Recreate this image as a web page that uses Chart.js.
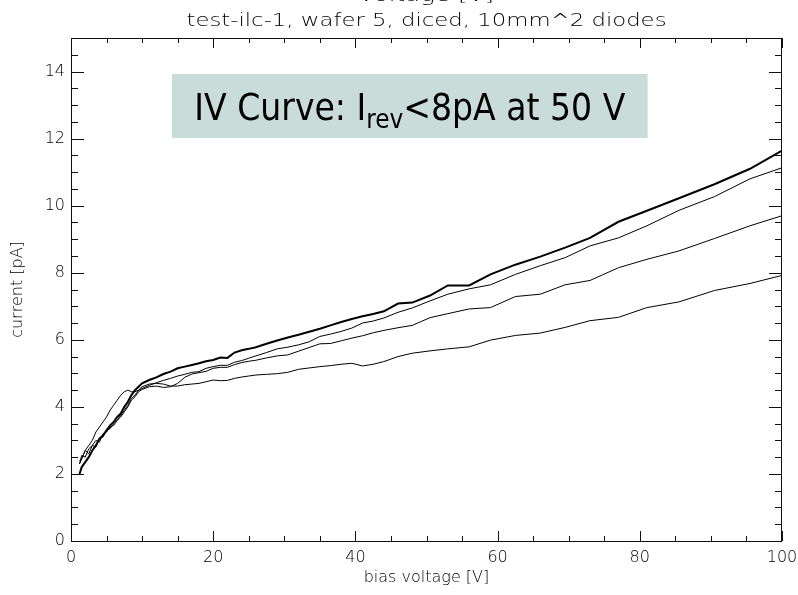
<!DOCTYPE html>
<html>
<head>
<meta charset="utf-8">
<script src="https://cdn.jsdelivr.net/npm/chart.js@4/dist/chart.umd.min.js"></script>
<style>
  html, body { margin: 0; padding: 0; background: #fff; }
</style>
</head>
<body>
<canvas id="myChart" width="798" height="595"></canvas>
<script>
// bias voltage points [V]
const voltage = [1.2, 1.5, 2, 2.5, 3, 3.5, 4, 4.5, 5, 5.5,
  6, 6.5, 7, 7.5, 8, 8.5, 9, 9.5, 10, 11,
  12, 13, 14, 15, 16, 17, 18, 19, 20, 21,
  22, 23, 24, 25, 26, 27.5, 29, 30.5, 32, 33.5,
  35, 36.5, 38, 39.5, 41, 42.5, 44, 46, 48, 50.5,
  53, 56, 59, 62.5, 66, 69.5, 73, 77, 81, 85.5,
  90.5, 95.5, 100];

// current [pA], one list per diode
const diodeA = [2.0, 2.2, 2.35, 2.5, 2.7, 2.85, 3.05, 3.15, 3.3, 3.45,
  3.55, 3.7, 3.8, 4.0, 4.15, 4.35, 4.5, 4.6, 4.7, 4.8,
  4.88, 4.98, 5.05, 5.15, 5.2, 5.25, 5.3, 5.36, 5.4, 5.47,
  5.46, 5.62, 5.69, 5.73, 5.78, 5.88, 5.98, 6.07, 6.15, 6.24,
  6.33, 6.43, 6.53, 6.62, 6.7, 6.77, 6.85, 7.08, 7.11, 7.32,
  7.62, 7.62, 7.95, 8.24, 8.48, 8.75, 9.04, 9.52, 9.85, 10.22,
  10.64, 11.1, 11.64];
const diodeB = [2.3, 2.55, 2.5, 2.75, 2.85, 2.8, 3.05, 3.1, 3.3, 3.35,
  3.5, 3.6, 3.75, 3.9, 4.05, 4.25, 4.35, 4.49, 4.55, 4.64,
  4.72, 4.79, 4.85, 4.92, 4.97, 5.03, 5.05, 5.15, 5.2, 5.24,
  5.24, 5.33, 5.38, 5.45, 5.52, 5.62, 5.73, 5.78, 5.85, 5.94,
  6.1, 6.17, 6.25, 6.35, 6.5, 6.56, 6.65, 6.82, 6.95, 7.16,
  7.36, 7.52, 7.64, 7.95, 8.21, 8.45, 8.8, 9.04, 9.4, 9.86,
  10.27, 10.8, 11.13];
const diodeC = [2.4, 2.45, 2.7, 2.6, 2.85, 3.0, 2.95, 3.2, 3.25, 3.4,
  3.45, 3.6, 3.7, 3.85, 4.0, 4.2, 4.3, 4.45, 4.52, 4.6,
  4.62, 4.58, 4.6, 4.7, 4.88, 4.98, 5.02, 5.06, 5.15, 5.18,
  5.18, 5.26, 5.32, 5.36, 5.39, 5.46, 5.52, 5.55, 5.66, 5.77,
  5.88, 5.89, 5.97, 6.05, 6.12, 6.21, 6.28, 6.36, 6.43, 6.66,
  6.78, 6.92, 6.96, 7.29, 7.36, 7.64, 7.77, 8.15, 8.4, 8.65,
  9.02, 9.4, 9.7];
const diodeD = [2.3, 2.45, 2.7, 2.85, 3.0, 3.25, 3.4, 3.55, 3.7, 3.9,
  4.05, 4.2, 4.35, 4.45, 4.5, 4.45, 4.45, 4.5, 4.6, 4.68,
  4.7, 4.68, 4.62, 4.62, 4.66, 4.68, 4.7, 4.75, 4.8, 4.78,
  4.79, 4.85, 4.89, 4.92, 4.95, 4.97, 4.99, 5.03, 5.12, 5.16,
  5.2, 5.23, 5.27, 5.3, 5.22, 5.27, 5.35, 5.5, 5.6, 5.67,
  5.73, 5.79, 5.99, 6.13, 6.2, 6.37, 6.57, 6.67, 6.96, 7.13,
  7.47, 7.68, 7.92];

const xTickLabels = [0, 20, 40, 60, 80, 100];
const yTickLabels = [0, 2, 4, 6, 8, 10, 12, 14];

const topTitle = 'voltage [V]';
const subTitle = 'test-ilc-1, wafer 5, diced, 10mm^2 diodes';
const noteParts = ['IV Curve: I', 'rev', '<8pA at 50 V'];

const axisFont = 'DejaVu Sans';
const pts = arr => voltage.map((v, i) => ({ x: v, y: arr[i] }));

// box of the note, in data units
const noteBox = { x0: 14.2, x1: 81.1, y0: 12.02, y1: 13.93 };

// draw text stretched sideways so it covers a given width
function wideText(ctx, txt, cx, y, width) {
  const w = ctx.measureText(txt).width;
  ctx.save();
  ctx.translate(cx, y);
  ctx.scale(width / w, 1);
  ctx.textAlign = 'center';
  ctx.fillText(txt, 0, 0);
  ctx.restore();
}

const frame = {
  id: 'frame',
  afterDraw(chart) {
    const { ctx, chartArea: a, scales: { x, y } } = chart;
    ctx.save();
    ctx.strokeStyle = '#111';
    ctx.lineWidth = 1;
    ctx.strokeRect(a.left + 0.5, a.top + 0.5, a.right - a.left - 1, a.bottom - a.top);
    ctx.beginPath();
    for (let v = 0; v <= 100; v += 5) {
      const px = Math.round(x.getPixelForValue(v)) + 0.5;
      const len = v % 20 === 0 ? 10 : 5;
      ctx.moveTo(px, a.bottom); ctx.lineTo(px, a.bottom - len);
      ctx.moveTo(px, a.top); ctx.lineTo(px, a.top + len);
    }
    for (let v = 0; v <= 15; v += 0.5) {
      const py = Math.round(y.getPixelForValue(v)) + 0.5;
      const len = v % 2 === 0 ? 13 : 7;
      ctx.moveTo(a.left, py); ctx.lineTo(a.left + len, py);
      ctx.moveTo(a.right, py); ctx.lineTo(a.right - len, py);
    }
    ctx.stroke();

    // titles above the frame
    const cx = (a.left + a.right) / 2;
    ctx.fillStyle = '#000';
    ctx.textBaseline = 'alphabetic';
    ctx.font = '200 17px ' + axisFont;
    wideText(ctx, subTitle, cx, 26, 480);
    ctx.font = '200 17px ' + axisFont;
    wideText(ctx, topTitle, cx, 1, 135);

    // note box
    const bx0 = x.getPixelForValue(noteBox.x0), bx1 = x.getPixelForValue(noteBox.x1);
    const by0 = y.getPixelForValue(noteBox.y1), by1 = y.getPixelForValue(noteBox.y0);
    ctx.fillStyle = '#c9dcd9';
    ctx.fillRect(bx0, by0, bx1 - bx0, by1 - by0);
    const big = '37px ' + axisFont, small = '26px ' + axisFont;
    ctx.font = big; const w1 = ctx.measureText(noteParts[0]).width, w3 = ctx.measureText(noteParts[2]).width;
    ctx.font = small; const w2 = ctx.measureText(noteParts[1]).width;
    const total = w1 + w2 + w3;
    const target = 431;
    const sx = Math.min(1, target / total);
    const bcx = (bx0 + bx1) / 2, base = (by0 + by1) / 2 + 14;
    ctx.translate(bcx - target / 2, base);
    ctx.scale(sx, 1);
    ctx.textAlign = 'left';
    ctx.fillStyle = '#000';
    ctx.font = big; ctx.fillText(noteParts[0], 0, 0);
    ctx.font = small; ctx.fillText(noteParts[1], w1, 8);
    ctx.font = big; ctx.fillText(noteParts[2], w1 + w2, 0);
    ctx.restore();
  }
};

const line = (arr, w) => ({
  data: pts(arr), showLine: true, borderColor: '#000', borderWidth: w,
  pointRadius: 0, fill: false, tension: 0
});

new Chart('myChart', {
  type: 'scatter',
  data: {
    datasets: [line(diodeD, 1), line(diodeC, 1), line(diodeB, 1), line(diodeA, 2)]
  },
  options: {
    responsive: false,
    animation: false,
    devicePixelRatio: 1,
    layout: { padding: { top: 38, right: 16, left: 0, bottom: 0 } },
    plugins: { legend: { display: false }, tooltip: { enabled: false } },
    scales: {
      x: {
        type: 'linear', min: 0, max: 100,
        afterFit: s => { s.height = 54; s.paddingLeft = 0; s.paddingRight = 0; },
        afterBuildTicks: s => { s.ticks = xTickLabels.map(v => ({ value: v })); },
        grid: { display: false, drawTicks: false },
        border: { display: false },
        ticks: { color: '#000', font: { family: axisFont, size: 16, weight: 200 }, padding: 7, maxRotation: 0 },
        title: { display: true, text: 'bias voltage [V]', color: '#000',
          font: { family: axisFont, size: 16, weight: 200 }, padding: { top: 0, bottom: 8 } }
      },
      y: {
        type: 'linear', min: 0, max: 15,
        afterFit: s => { s.width = 71; s.paddingTop = 0; s.paddingBottom = 0; },
        afterBuildTicks: s => { s.ticks = yTickLabels.map(v => ({ value: v })); },
        grid: { display: false, drawTicks: false },
        border: { display: false },
        ticks: { color: '#000', font: { family: axisFont, size: 16, weight: 200 }, padding: 6 },
        title: { display: true, text: 'current [pA]', color: '#000',
          font: { family: axisFont, size: 16, weight: 200 }, padding: { top: 8, bottom: 0 } }
      }
    }
  },
  plugins: [frame]
});
</script>
</body>
</html>
